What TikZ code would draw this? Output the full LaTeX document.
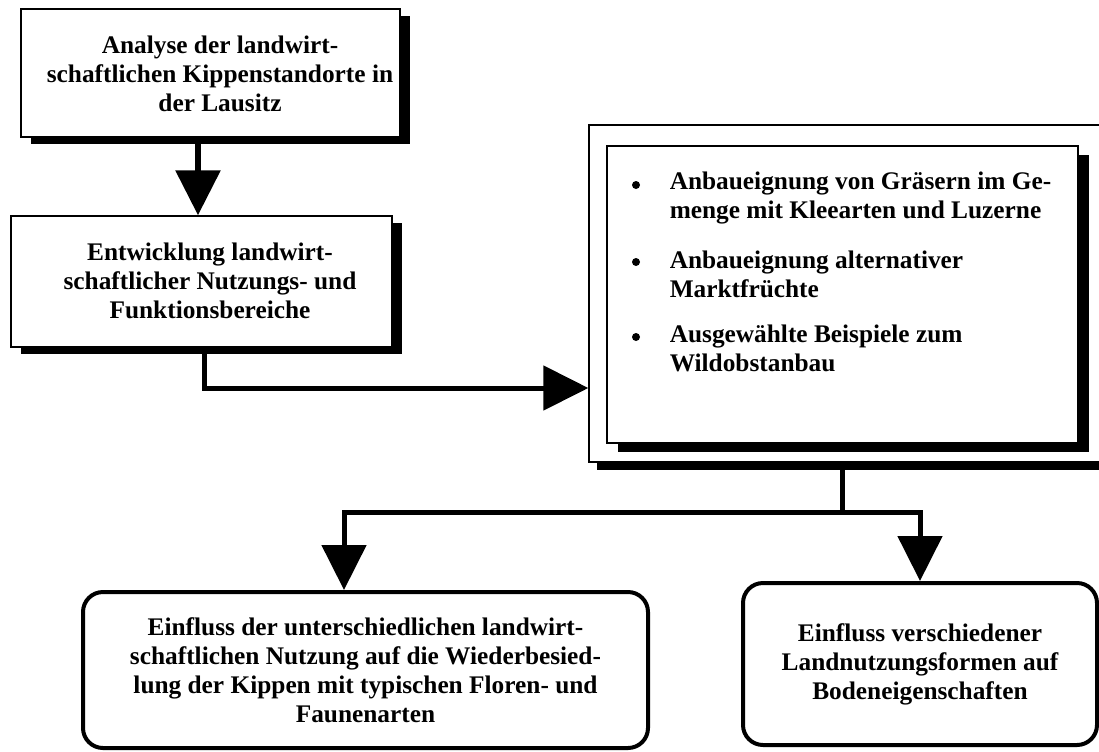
\documentclass[tikz,border=0pt]{standalone}
\usepackage{fontspec}
\setmainfont{Liberation Serif}
\usetikzlibrary{arrows.meta,shadows}
\begin{document}
\begin{tikzpicture}[x=0.75pt,y=-0.75pt,
  box/.style={draw, line width=1.1pt, fill=white, inner sep=0pt,
    drop shadow={shadow xshift=7.5pt, shadow yshift=-5.6pt, opacity=1, fill=black}},
  frame/.style={draw, line width=1pt, fill=white, inner sep=0pt},
  rbox/.style={draw, line width=3pt, rounded corners=15pt, fill=white, inner sep=0pt,
    align=center, font=\fontsize{19}{21.75}\selectfont\bfseries},
  txt/.style={font=\fontsize{19}{21.75}\selectfont\bfseries, align=center, inner sep=0pt},
  itemtxt/.style={font=\fontsize{19}{21.75}\selectfont\bfseries, align=left, inner sep=0pt, anchor=west},
  bul/.style={circle, fill=black, inner sep=0pt, minimum size=6pt},
  arr/.style={-{Triangle[length=33.75pt,width=33pt]}},
  conn/.style={line width=3.75pt, line cap=butt}
]
\useasboundingbox (0,0) rectangle (1099,751);
\clip (0,0) rectangle (1099,751);

\node[box, minimum width=284.25pt, minimum height=96pt] (b1) at (210.5,73) {};
\node[txt] (t1) at (220,74) {Analyse der landwirt-\\schaftlichen Kippenstandorte in\\der Lausitz};

\node[box, minimum width=285.75pt, minimum height=98.25pt] (b2) at (201.5,281.5) {};
\node[txt] (t2) at (210,281) {Entwicklung landwirt-\\schaftlicher Nutzungs- und\\Funktionsbereiche};

\node[frame, minimum width=394.5pt, minimum height=252.75pt,
  drop shadow={shadow xshift=6pt, shadow yshift=-6pt, opacity=1, fill=black}] (outer) at (852,293.5) {};
\node[frame, minimum width=353.25pt, minimum height=222.75pt,
  drop shadow={shadow xshift=8pt, shadow yshift=-6.75pt, opacity=1, fill=black}] (inner) at (842.5,294.5) {};

\node[bul] (d1) at (636,185) {};
\node[itemtxt] (i1) at (669.5,197.5) {Anbaueignung von Gräsern im Ge-\\menge mit Kleearten und Luzerne};
\node[bul] (d2) at (636,262) {};
\node[itemtxt] (i2) at (669.5,274) {Anbaueignung alternativer\\Marktfrüchte};
\node[bul] (d3) at (636,337) {};
\node[itemtxt] (i3) at (669.5,348.5) {Ausgewählte Beispiele zum\\Wildobstanbau};

\node[rbox, minimum width=423.75pt, minimum height=117pt] (bl) at (365.5,670)
  {Einfluss der unterschiedlichen landwirt-\\schaftlichen Nutzung auf die Wiederbesied-\\lung der Kippen mit typischen Floren- und\\Faunenarten};
\node[rbox, minimum width=265.5pt, minimum height=121.5pt] (br) at (920,664)
  {Einfluss verschiedener\\Landnutzungsformen auf\\Bodeneigenschaften};

\draw[line width=4.5pt, arr] (198,0 |- b1.south) -- (198,0 |- b2.north);
\draw[conn, arr] (204,0 |- b2.south) |- (outer.west |- 0,388);
\coordinate (j) at (842,512);
\draw[conn] (outer.south -| j) -- (j);
\draw[conn, arr] (j) -| (344,0 |- bl.north);
\draw[conn, arr] (j) -| (br.north);
\end{tikzpicture}
\end{document}
